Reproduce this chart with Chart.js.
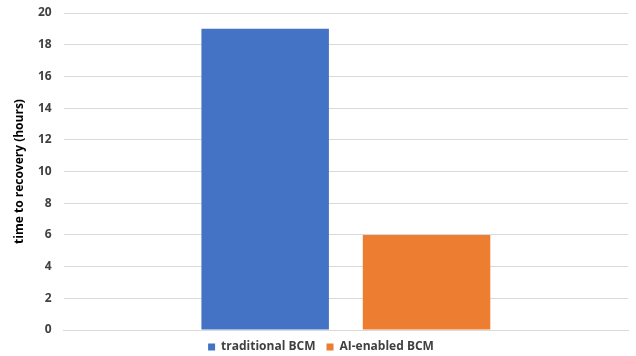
<!DOCTYPE html>
<html><head><meta charset="utf-8">
<script src="https://cdn.jsdelivr.net/npm/chart.js@4/dist/chart.umd.min.js"></script>
<style>html,body{margin:0;padding:0;background:#fff}#wrap{width:636px;height:356px}</style>
</head><body><div id="wrap"><canvas id="c" width="636" height="356"></canvas></div>
<script>
const categories = [""];
const seriesNames = ["traditional BCM", "AI-enabled BCM"];
const traditionalValues = [19];
const aiValues = [6];
const yTicks = [0, 2, 4, 6, 8, 10, 12, 14, 16, 18, 20];
const colors = ["#4472C4", "#ED7D31"];

new Chart(document.getElementById('c'), {
  type: 'bar',
  data: {
    labels: categories,
    datasets: [
      { label: seriesNames[0], data: traditionalValues, backgroundColor: colors[0] },
      { label: seriesNames[1], data: aiValues, backgroundColor: colors[1] }
    ]
  },
  options: {
    responsive: false,
    animation: false,
    layout: { padding: { top: 13, right: 8, left: 14, bottom: -7 } },
    datasets: { bar: { categoryPercentage: 0.572, barPercentage: 0.79 } },
    plugins: {
      legend: {
        position: 'bottom',
        labels: {
          boxWidth: 7, boxHeight: 7, padding: 11,
          color: '#404040',
          font: { family: 'Open Sans', size: 12, weight: 'bold' }
        }
      },
      tooltip: { enabled: false }
    },
    scales: {
      x: {
        grid: { display: false, drawTicks: false },
        border: { display: true, color: '#d9d9d9' },
        ticks: { display: false }
      },
      y: {
        min: 0, max: 20,
        afterBuildTicks: (axis) => { axis.ticks = yTicks.map(v => ({ value: v })); },
        afterFit: (axis) => { axis.paddingTop = 0; axis.paddingBottom = 0; },
        grid: { color: '#d9d9d9', drawTicks: false },
        border: { display: false },
        ticks: {
          padding: 12,
          color: '#404040',
          font: { family: 'Open Sans', size: 12, weight: 'bold' }
        },
        title: {
          display: true,
          text: 'time to recovery (hours)',
          color: '#000',
          font: { family: 'Open Sans', size: 12, weight: 'bold', lineHeight: 1 },
          padding: { top: 0, bottom: 0 }
        }
      }
    }
  }
});
</script></body></html>
